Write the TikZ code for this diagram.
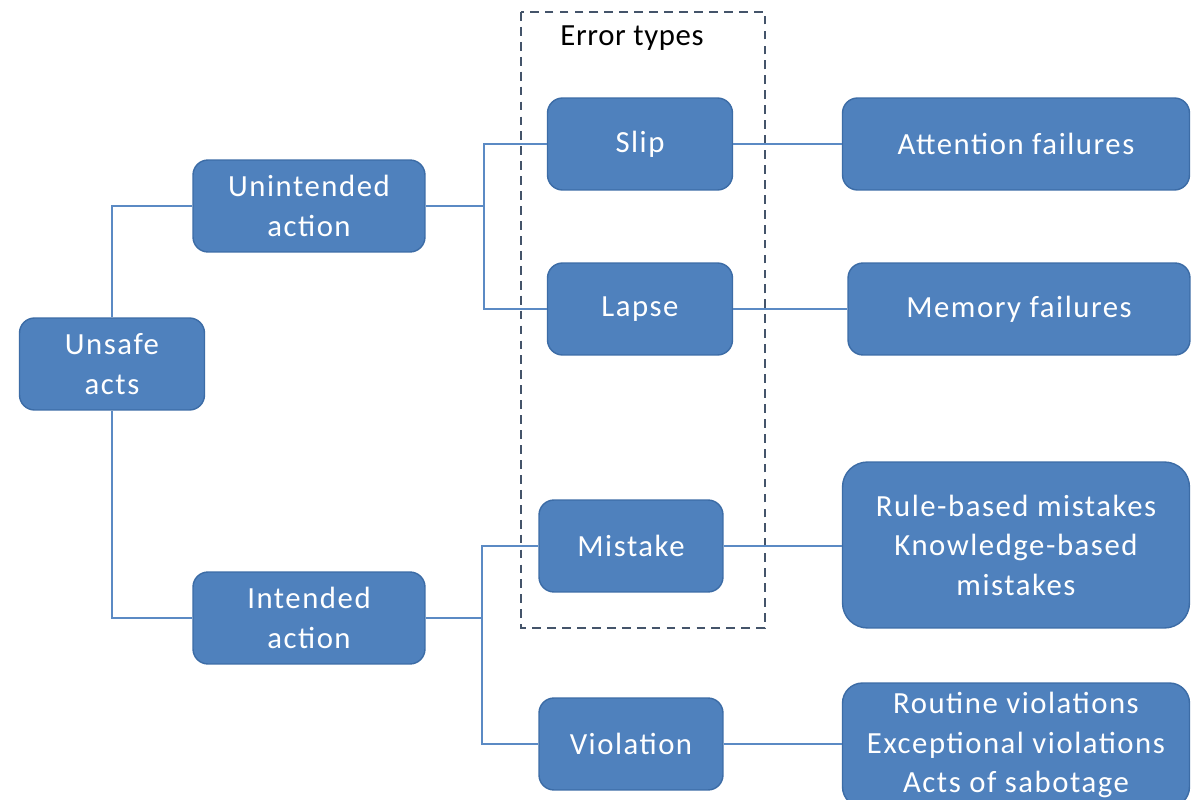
\documentclass[tikz,border=0pt]{standalone}
\usepackage{fontspec}
\setmainfont{Carlito}
\definecolor{boxfill}{HTML}{4F81BD}
\definecolor{boxline}{HTML}{3C6CA6}
\definecolor{linkcol}{HTML}{5B8AC4}
\definecolor{dashcol}{HTML}{44546A}
\newcommand{\boxfont}{\fontsize{17.5}{22.5}\selectfont\addfontfeature{LetterSpace=5}}
\begin{document}
\begin{tikzpicture}[x=0.02cm,y=-0.02cm,
  box/.style={draw=boxline,line width=0.8pt,fill=boxfill,rounded corners=0.3cm,
    text=white,align=center,font=\boxfont,
    minimum height=1.84cm,inner sep=2pt},
  link/.style={draw=linkcol,line width=1.15pt},
  group/.style={draw=dashcol,line width=1.2pt,dash pattern=on 5pt off 3.5pt}]
\clip (0,0) rectangle (1197,800);
\fill[white] (0,0) rectangle (1197,800);

% dashed frame around the error types
\draw[group] (521,12) rectangle (765,628);
\node[font=\fontsize{17.5}{22}\selectfont\addfontfeature{LetterSpace=2}] (errtitle) at (632,38) {Error types};

% branching points of the tree
\coordinate (ua) at (484,206);
\coordinate (ia) at (482,618);

% boxes
\node[box,minimum width=3.7cm]  (unsafe) at (112,364) {Unsafe\\acts};
\node[box,minimum width=4.64cm] (unint)  at (309,206) {Unintended\\action};
\node[box,minimum width=4.64cm] (inten)  at (309,618) {Intended\\action};
\node[box,minimum width=3.7cm]  (slip)   at (640,144) {Slip};
\node[box,minimum width=3.7cm]  (lapse)  at (640,309) {Lapse};
\node[box,minimum width=3.68cm] (mist)   at (631,546) {Mistake};
\node[box,minimum width=3.68cm] (viol)   at (631,744) {Violation};
\node[box,minimum width=6.94cm] (attn)   at (1016,144) {Attention failures};
\node[box,minimum width=6.84cm] (mem)    at (1019,309) {Memory failures};
\node[box,minimum width=6.94cm,minimum height=3.32cm,rounded corners=0.5cm] (rule) at (1016,545)
  {Rule-based mistakes\\Knowledge-based\\mistakes};
\node[box,minimum width=6.94cm,minimum height=2.48cm,rounded corners=0.4cm] (rout) at (1016,745)
  {Routine violations\\Exceptional violations\\Acts of sabotage};

% tree links
\draw[link] (unsafe.north) |- (unint.west);
\draw[link] (unsafe.south) |- (inten.west);
\draw[link] (unint.east) -- (ua);
\draw[link] (ua) |- (slip.west);
\draw[link] (ua) |- (lapse.west);
\draw[link] (inten.east) -- (ia);
\draw[link] (ia) |- (mist.west);
\draw[link] (ia) |- (viol.west);
\draw[link] (slip.east) -- (attn.west);
\draw[link] (lapse.east) -- (mem.west);
\draw[link] (mist.east) -- (mist.east -| rule.west);
\draw[link] (viol.east) -- (viol.east -| rout.west);
\end{tikzpicture}
\end{document}
